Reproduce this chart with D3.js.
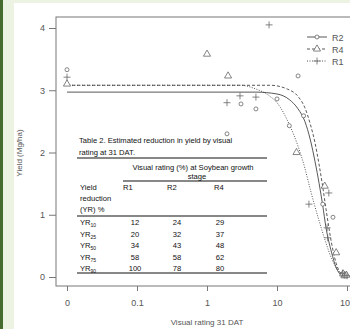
<!DOCTYPE html>
<html>
<head>
<meta charset="utf-8">
<script src="https://cdn.jsdelivr.net/npm/d3@7"></script>
<style>
  body { margin: 0; background: #fff; }
  svg { display: block; font-family: "Liberation Sans", Arial, sans-serif; }
</style>
</head>
<body>
<svg id="chart" width="350" height="329"></svg>
<script>
// x ticks: 0 is drawn where 0.01 would sit on the log axis
const xTicks = [0.01, 0.1, 1, 10, 100]
const xTickLabels = ['0', '0.1', '1', '10', '100']
const yTicks = [0, 1, 2, 3, 4]

// observed points [visual rating, yield]
const r2Points = [[0, 3.33], [1.93, 2.3], [3.06, 2.78], [5, 2.7], [10, 2.86], [15, 2.43], [20, 3.23], [24, 2.59],
  [45, 1.17], [63, 0.96], [85, 0.04], [90, 0.02], [95, 0.03]]
const r4Points = [[0, 3.1], [1, 3.58], [2, 3.23], [19, 2.0], [48, 1.46], [70, 0.39], [88, 0.05], [92, 0.02], [98, 0.03]]
const r1Points = [[0, 3.21], [1.93, 2.8], [2.96, 2.91], [5, 2.89], [7.7, 4.05], [28.6, 1.17], [52, 0.79], [53, 0.63],
  [55, 1.35], [86, 0.06], [93, 0.03], [100, 0.02]]

// fitted curves [visual rating, yield]
const r2Curve = [[0.01, 2.97], [5, 2.97], [10, 2.94], [15, 2.85], [20, 2.7], [25, 2.5], [30, 2.2], [35, 1.85], [40, 1.5],
  [45, 1.15], [50, 0.8], [60, 0.4], [70, 0.15], [85, 0.02]]
const r4Curve = [[0.01, 3.08], [8, 3.08], [14, 3.02], [20, 2.9], [25, 2.72], [30, 2.45], [35, 2.15], [40, 1.8], [45, 1.45],
  [50, 1.1], [60, 0.55], [70, 0.22], [85, 0.03]]
const r1Curve = [[0.01, 3.08], [3, 3.08], [5, 3.02], [8, 2.9], [10, 2.8], [15, 2.45], [20, 2.1], [25, 1.75], [30, 1.4],
  [40, 0.9], [50, 0.55], [60, 0.3], [75, 0.1], [90, 0.02]]

const tableRows = [
  ['10', '12', '24', '29'],
  ['25', '20', '32', '37'],
  ['50', '34', '43', '48'],
  ['75', '58', '58', '62'],
  ['90', '100', '78', '80']
]

const svg = d3.select('#chart')
const grey = '#666'

// page background strips
svg.append('rect').attr('x', 0).attr('y', 0).attr('width', 350).attr('height', 329).attr('fill', '#edf3e2')
svg.append('rect').attr('x', 0).attr('y', 0).attr('width', 3).attr('height', 329).attr('fill', '#466b2e')
svg.append('rect').attr('x', 14).attr('y', 3).attr('width', 340).attr('height', 326).attr('fill', '#fff')

const x = d3.scaleLog().domain([0.01, 100]).range([67, 347])
const y = d3.scaleLinear().domain([0, 4]).range([277, 28])
const px = (v) => x(Math.max(v, 0.01))

// frame
svg.append('rect').attr('x', 56).attr('y', 17).attr('width', 320).attr('height', 269)
  .attr('fill', 'none').attr('stroke', '#777').attr('stroke-width', 1)

// y axis
const yAxis = svg.append('g').attr('transform', 'translate(56,0)')
  .call(d3.axisLeft(y).tickValues(yTicks).tickSize(7).tickPadding(4).tickFormat(d3.format('d')))
yAxis.select('.domain').remove()
yAxis.selectAll('line').attr('stroke', '#777')
yAxis.selectAll('text').attr('fill', '#555').style('font-size', '9px')

// x axis
const xAxis = svg.append('g').attr('transform', 'translate(0,286)')
  .call(d3.axisBottom(x).tickValues(xTicks).tickSize(5).tickPadding(9).tickFormat((d, i) => xTickLabels[i]))
xAxis.select('.domain').remove()
xAxis.selectAll('line').attr('stroke', '#777')
xAxis.selectAll('text').attr('fill', '#555').style('font-size', '9px')

svg.append('text').attr('transform', 'translate(22,153) rotate(-90)').attr('text-anchor', 'middle')
  .style('font-size', '8px').attr('fill', '#555').text('Yield (Mg/ha)')
svg.append('text').attr('x', 207).attr('y', 325).attr('text-anchor', 'middle')
  .style('font-size', '8px').attr('fill', '#555').text('Visual rating 31 DAT')

// curves
const line = d3.line().x((d) => px(d[0])).y((d) => y(d[1])).curve(d3.curveMonotoneX)
const series = [
  { name: 'R2', pts: r2Points, curve: r2Curve, dash: null, marker: 'circle' },
  { name: 'R4', pts: r4Points, curve: r4Curve, dash: '3,2', marker: 'triangle' },
  { name: 'R1', pts: r1Points, curve: r1Curve, dash: '1,1.5', marker: 'plus' }
]
series.forEach((s) => {
  svg.append('path').datum(s.curve).attr('fill', 'none').attr('stroke', '#444')
    .attr('stroke-width', 0.9).attr('stroke-dasharray', s.dash).attr('d', line)
})

function marker(g, type, cx, cy) {
  if (type === 'circle') {
    g.append('circle').attr('cx', cx).attr('cy', cy).attr('r', 2).attr('fill', '#fff').attr('stroke', grey).attr('stroke-width', 0.8)
  } else if (type === 'triangle') {
    g.append('path').attr('d', d3.symbol(d3.symbolTriangle, 22)()).attr('transform', `translate(${cx},${cy})`)
      .attr('fill', '#fff').attr('stroke', grey).attr('stroke-width', 0.8)
  } else {
    g.append('path').attr('d', `M${cx - 3.5},${cy}H${cx + 3.5}M${cx},${cy - 3.5}V${cy + 3.5}`)
      .attr('stroke', grey).attr('stroke-width', 0.8)
  }
}

const pointsG = svg.append('g')
series.forEach((s) => s.pts.forEach((d) => marker(pointsG, s.marker, px(d[0]), y(d[1]))))

// legend
const legend = svg.append('g')
series.forEach((s, i) => {
  const ly = 37 + i * 12
  legend.append('line').attr('x1', 307).attr('x2', 327).attr('y1', ly).attr('y2', ly)
    .attr('stroke', '#444').attr('stroke-width', 0.9).attr('stroke-dasharray', s.dash)
  marker(legend, s.marker, 317, ly)
  legend.append('text').attr('x', 332).attr('y', ly + 3.5).style('font-size', '9px').attr('fill', '#555').text(s.name)
})

// embedded table
const t = svg.append('g').style('font-size', '7.6px').attr('fill', '#111')
t.append('text').attr('x', 79).attr('y', 143).text('Table 2. Estimated reduction in yield by visual')
t.append('text').attr('x', 79).attr('y', 155).text('rating at 31 DAT.')
t.append('text').attr('x', 193).attr('y', 170).attr('text-anchor', 'middle').text('Visual rating (%) at Soybean growth')
t.append('text').attr('x', 197).attr('y', 179).attr('text-anchor', 'middle').text('stage')
t.append('text').attr('x', 80).attr('y', 190).text('Yield')
t.append('text').attr('x', 80).attr('y', 201).text('reduction')
t.append('text').attr('x', 80).attr('y', 212).text('(YR) %')
const colX = [123, 167, 214]
const valX = [135, 177, 220]
;['R1', 'R2', 'R4'].forEach((c, i) => t.append('text').attr('x', colX[i]).attr('y', 190).text(c))
const rule = (x1, yy) => t.append('line').attr('x1', x1).attr('x2', 267).attr('y1', yy).attr('y2', yy)
  .attr('stroke', '#111').attr('stroke-width', 1)
rule(77, 158)
rule(123, 181)
rule(77, 216)
rule(77, 273)
tableRows.forEach((r, i) => {
  const ry = 225 + i * 11.6
  const lab = t.append('text').attr('x', 80).attr('y', ry)
  lab.append('tspan').text('YR')
  lab.append('tspan').attr('dy', 2).style('font-size', '5px').text(r[0])
  r.slice(1).forEach((v, j) => t.append('text').attr('x', valX[j]).attr('y', ry).attr('text-anchor', 'middle').text(v))
})
</script>
</body>
</html>
